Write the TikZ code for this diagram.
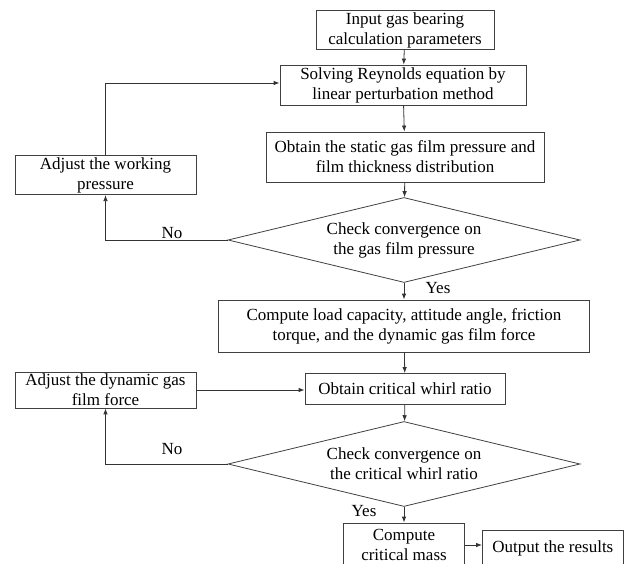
\documentclass[tikz,border=0pt]{standalone}
\usepackage{fontspec}
\setmainfont{Liberation Serif}
\usetikzlibrary{arrows.meta,shapes.geometric}

\tikzset{
  box/.style={draw=black!75, line width=0.8pt, align=center, inner sep=2pt},
  check/.style={draw=black!75, line width=0.8pt, shape=diamond, aspect=4,
    align=center, inner sep=0pt, minimum width=352pt, minimum height=85pt},
  flow/.style={draw=black!80, line width=0.8pt, -{Latex[length=6pt,width=4.5pt]}},
}

\begin{document}
\begin{tikzpicture}[x=1pt,y=1pt]

\def\mx{404}
\def\lx{105.5}

\fontsize{17}{20}\selectfont
\path [use as bounding box] (0,0) rectangle (624,-564);
\clip (0,0) rectangle (624,-564);

% MAIN COLUMN
\node [box, minimum width=178pt, minimum height=38pt] (in) at (405,-30)
	{Input gas bearing\\calculation parameters};
\node [box, minimum width=246pt, minimum height=40pt] (solve) at (403,-85)
	{Solving Reynolds equation by\\linear perturbation method};
\node [box, minimum width=278pt, minimum height=50pt] (static) at (405,-157)
	{Obtain the static gas film pressure and\\film thickness distribution};
\node [check] (chk1) at (\mx,-240)
	{Check convergence on\\the gas film pressure};
\node [box, minimum width=371pt, minimum height=52pt] (load) at (404,-326)
	{Compute load capacity, attitude angle, friction\\torque, and the dynamic gas film force};
\node [box, minimum width=200pt, minimum height=31pt] (whirl) at (405,-389)
	{Obtain critical whirl ratio};
\node [check] (chk2) at (\mx,-464)
	{Check convergence on\\the critical whirl ratio};
\node [box, minimum width=121pt, minimum height=44pt] (mass) at (\mx,-545)
	{Compute\\critical mass};
\node [box, minimum width=141pt, minimum height=36pt, anchor=west] (out) at (482,-548)
	{Output the results};

% SIDE BOXES
\node [box, minimum width=181pt, minimum height=39pt] (adjp) at (\lx,-175)
	{Adjust the working\\pressure};
\node [box, minimum width=181pt, minimum height=32pt] (adjf) at (\lx,-390)
	{Adjust the dynamic gas\\film force};

% LABELS
\node (no1) at (172,-233) {No};
\node (yes1) at (438,-288) {Yes};
\node (no2) at (172,-449) {No};
\node (yes2) at (364,-511) {Yes};

% ARROWS
\draw [flow] (in) -- (solve);
\draw [flow] (solve) -- (static);
\draw [flow] (static) -- (chk1);
\draw [flow] (chk1) -- (load);
\draw [flow] (load) -- (whirl);
\draw [flow] (whirl) -- (chk2);
\draw [flow] (chk2) -- (mass);
\draw [flow] (mass.east) -- (mass.east -| out.west);

% LOOPS
\draw [flow] (chk1.west) -| (adjp.south);
\draw [flow] (adjp.north) |- ([yshift=2pt]solve.west);
\draw [flow] (chk2.west) -| (adjf.south);
\draw [flow] (adjf.east) -- (adjf.east -| whirl.west);

\end{tikzpicture}
\end{document}
